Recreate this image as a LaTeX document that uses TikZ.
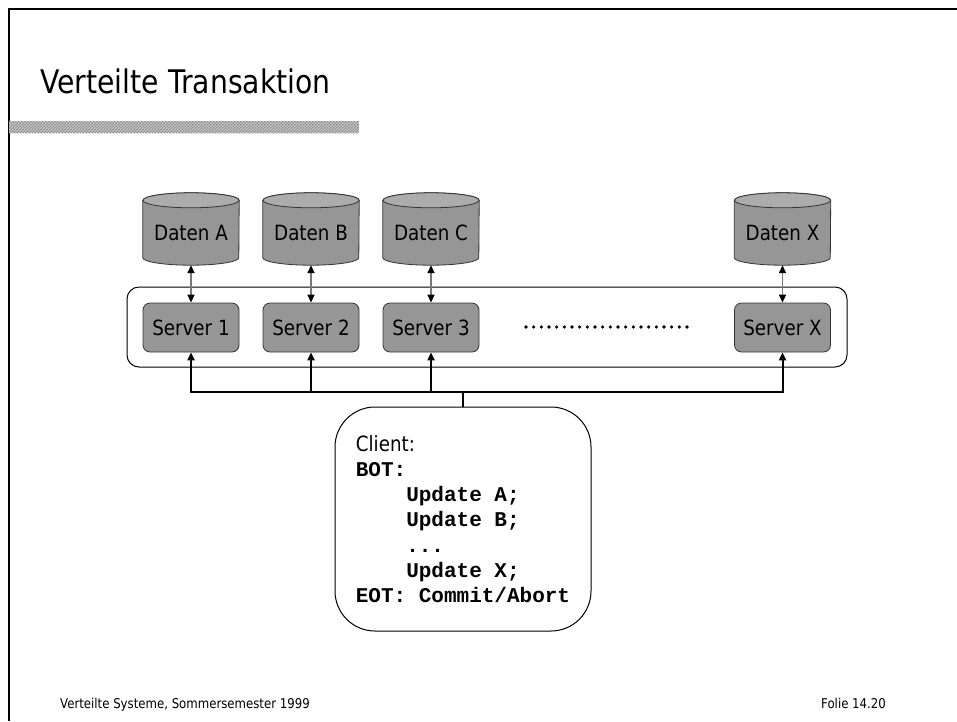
\documentclass[tikz,border=0pt]{standalone}
\usepackage{fontspec}
\setmainfont{DejaVu Sans}[FakeStretch=0.87]
\setmonofont{Liberation Mono}
\usetikzlibrary{arrows.meta,patterns,backgrounds}

\definecolor{boxgray}{RGB}{150,150,150}
\definecolor{capgray}{RGB}{172,172,172}
\definecolor{linkgray}{RGB}{120,120,120}

\tikzset{
  every node/.style={inner sep=0pt},
  lbl/.style={font=\fontsize{21}{25}\selectfont},
  dbnode/.style={lbl, minimum width=96pt, minimum height=72pt, text height=22pt, text depth=0pt},
  dbbody/.style={draw=black!80, line width=0.8pt, fill=boxgray},
  dbcap/.style={draw=black!80, line width=0.8pt, fill=capgray},
  srv/.style={lbl, draw=black!80, line width=0.8pt, fill=boxgray, rounded corners=7pt,
              minimum width=96pt, minimum height=49pt},
  dblink/.style={draw=linkgray, line width=1.5pt, {Triangle[color=black,length=8pt,width=7pt]}-{Triangle[color=black,length=8pt,width=7pt]}},
  buslink/.style={draw=black, line width=2pt, -{Triangle[length=8pt,width=7pt]}},
  busline/.style={draw=black, line width=2pt},
  group/.style={draw=black, line width=1pt, rounded corners=12pt, minimum width=720pt, minimum height=80pt},
  clientbox/.style={draw=black, line width=1pt, rounded corners=40pt, minimum width=256pt,
                    minimum height=224pt, align=left, font=\fontsize{21}{25.2}\selectfont},
  foot/.style={font=\fontsize{13.5}{16}\selectfont, anchor=base west},
}

% draws the drum outline behind a data node
\newcommand\drum[1]{%
  \filldraw[dbbody] ([yshift=-7.5pt]#1.north west) -- ([yshift=7.5pt]#1.south west)
    arc[start angle=180, end angle=360, x radius=48pt, y radius=7.5pt]
    -- ([yshift=-7.5pt]#1.north east)
    arc[start angle=0, end angle=180, x radius=48pt, y radius=7.5pt] -- cycle;
  \filldraw[dbcap] ([yshift=-7.5pt]#1.north) ellipse[x radius=48pt, y radius=7.5pt];
}

\begin{document}
\begin{tikzpicture}[x=1pt, y=-1pt]
  \useasboundingbox (0,0) rectangle (957,721);

  % slide frame
  \draw[line width=2pt] (9,721) coordinate (fbl) -- (9,9) coordinate (ftl) -- (957,9) coordinate (ftr);

  % heading and rule
  \node[anchor=base west, font=\fontsize{32.5}{38}\selectfont] (title) at (40,93) {Verteilte Transaktion};
  \fill[gray!70] (9,121) rectangle (359,133);
  \fill[pattern=crosshatch dots, pattern color=black] (9,121) rectangle (359,133);
  \fill[pattern=north east lines, pattern color=white!85!black] (9,121) rectangle (359,133);

  % server group frame
  \node[group] (grp) at (487,327) {};

  % data stores
  \node[dbnode] (dA) at (191,229) {Daten A};
  \node[dbnode] (dB) at (311,229) {Daten B};
  \node[dbnode] (dC) at (431,229) {Daten C};
  \node[dbnode] (dX) at (782.5,229) {Daten X};
  \begin{pgfonlayer}{background}
    \drum{dA}\drum{dB}\drum{dC}\drum{dX}
  \end{pgfonlayer}

  % servers
  \node[srv] (s1) at (191,327.5) {Server 1};
  \node[srv] (s2) at (311,327.5) {Server 2};
  \node[srv] (s3) at (431,327.5) {Server 3};
  \node[srv] (sX) at (782.5,327.5) {Server X};

  % ellipsis between the servers
  \foreach \i in {0,...,21} {
    \fill ({526+\i*7.667},327) circle[radius=1.8pt];
  }

  % links store <-> server
  \draw[dblink] (dA.south) -- (s1.north);
  \draw[dblink] (dB.south) -- (s2.north);
  \draw[dblink] (dC.south) -- (s3.north);
  \draw[dblink] (dX.south) -- (sX.north);

  % client
  \node[clientbox] (client) at (463,519) {%
    Client:\\
    {\ttfamily\bfseries BOT:}\\
    {\ttfamily\bfseries\phantom{xxxx}Update A;}\\
    {\ttfamily\bfseries\phantom{xxxx}Update B;}\\
    {\ttfamily\bfseries\phantom{xxxx}...}\\
    {\ttfamily\bfseries\phantom{xxxx}Update X;}\\
    {\ttfamily\bfseries EOT: Commit/Abort}};

  % bus from the client to the servers
  \coordinate (bus) at (463,392);
  \draw[busline] (client.north) -- (bus);
  \draw[buslink] (bus) -| (s1.south);
  \draw[buslink] (bus) -| (s2.south);
  \draw[buslink] (bus) -| (s3.south);
  \draw[buslink] (bus) -| (sX.south);

  % footer
  \node[foot] (ftxt) at (60,708) {Verteilte Systeme, Sommersemester 1999};
  \node[foot] (fno) at (821,708) {Folie 14.20};
\end{tikzpicture}
\end{document}
